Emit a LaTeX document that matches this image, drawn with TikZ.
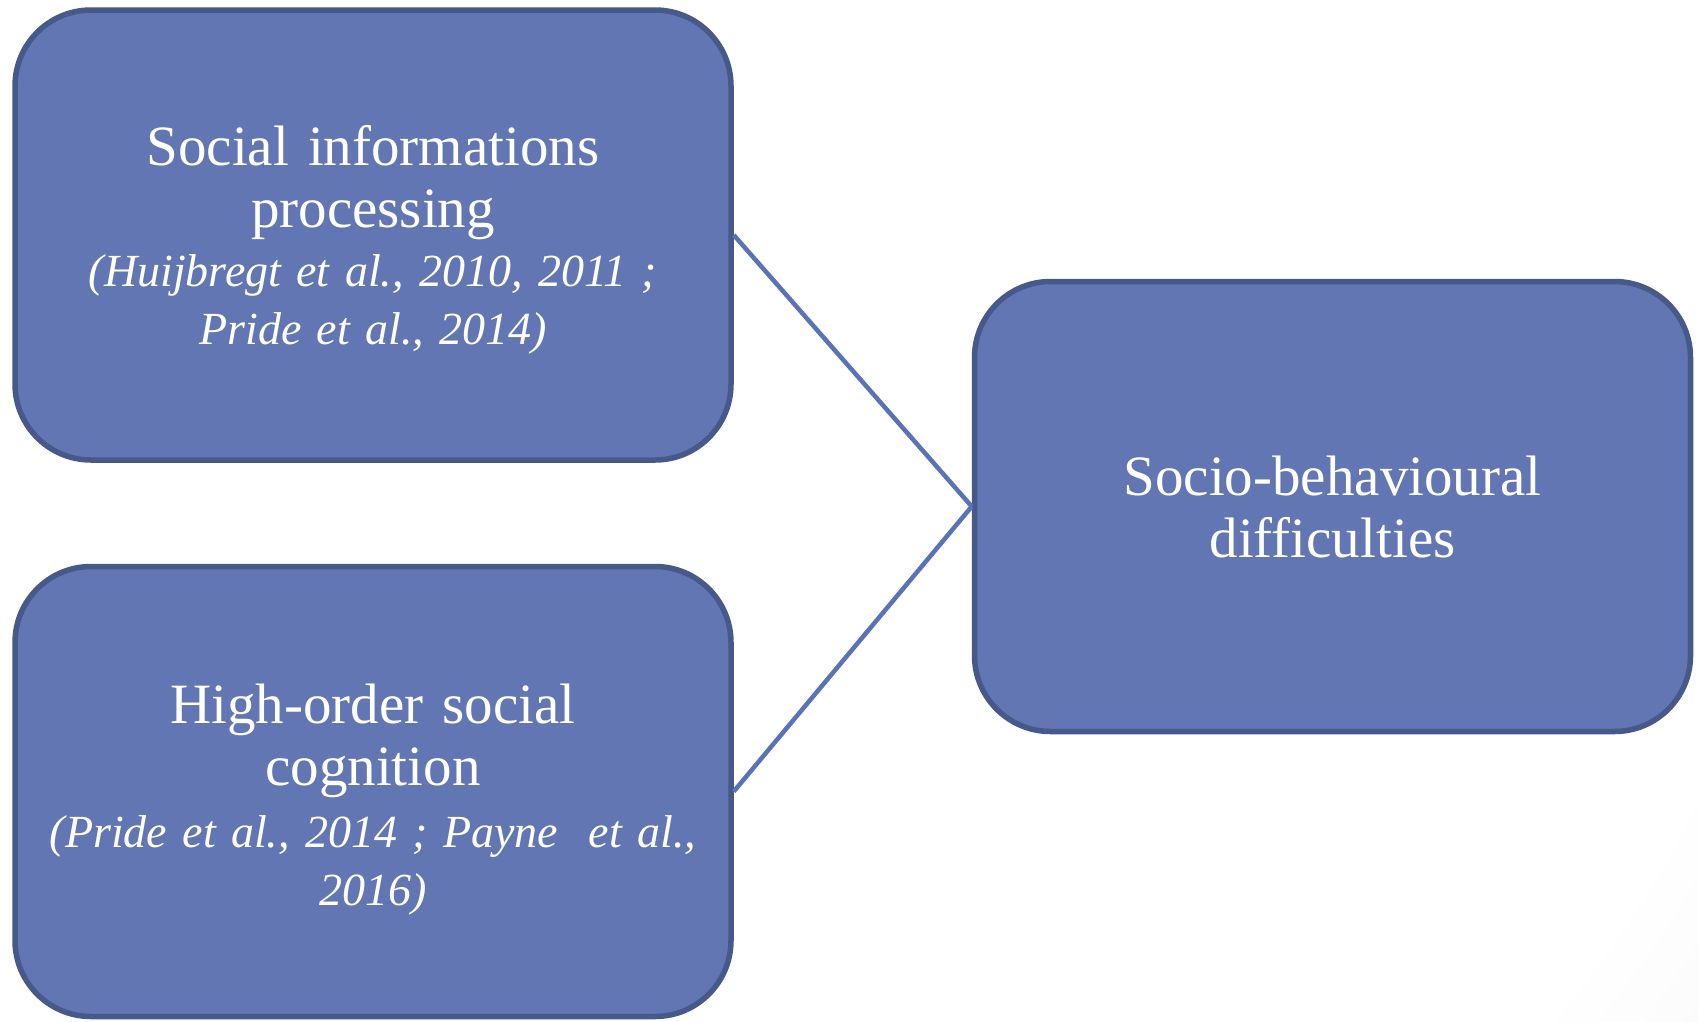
\documentclass[tikz,border=0pt]{standalone}
\usepackage{fontspec}
\setmainfont{Liberation Serif}
\pgfdeclareradialshading{bgshade}{\pgfpoint{0bp}{0bp}}{color(0bp)=(white); color(22bp)=(white); color(50bp)=(black!16)}
\definecolor{boxfill}{HTML}{6176B2}
\definecolor{boxline}{HTML}{46598A}
\definecolor{connline}{HTML}{5A73B8}
\tikzset{
  box/.style={draw=boxline, fill=boxfill, line width=5.5, rounded corners=76, minimum width=716, minimum height=450, inner sep=0},
  maintext/.style={text=white, align=center, text width=700, inner sep=0, anchor=base, font=\fontsize{57}{62}\selectfont},
  citetext/.style={text=white, align=center, text width=700, inner sep=0, anchor=base, font=\fontsize{46}{58}\selectfont\itshape},
  conn/.style={draw=connline, line width=4.5}
}
\begin{document}
\begin{tikzpicture}[x=1pt,y=1pt]
\useasboundingbox (0,0) rectangle (1698,-1021);
\begin{scope}
\clip (0,0) rectangle (1698,-1021);
\shade[shading=bgshade] (700,-300) circle (1250);
\end{scope}
\node[box] (b1) at (373,-235) {};
\node[box] (b2) at (373,-791.5) {};
\node[box] (b3) at (1332.5,-506.5) {};
\draw[conn] (b1.east) -- (b3.west);
\draw[conn] (b2.east) -- (b3.west);
\node[maintext] (t1) at (373,-165) {Social informations\\processing};
\node[citetext] (c1) at (373,-286) {(Huijbregt et al., 2010, 2011 ;\\Pride et al., 2014)};
\node[maintext] (t2) at (373,-723) {High-order social\\cognition};
\node[citetext] (c2) at (373,-847) {(Pride et al., 2014 ; Payne~ et al.,\\2016)};
\node[maintext] (t3) at (1332.5,-495) {Socio-behavioural\\difficulties};
\end{tikzpicture}
\end{document}
